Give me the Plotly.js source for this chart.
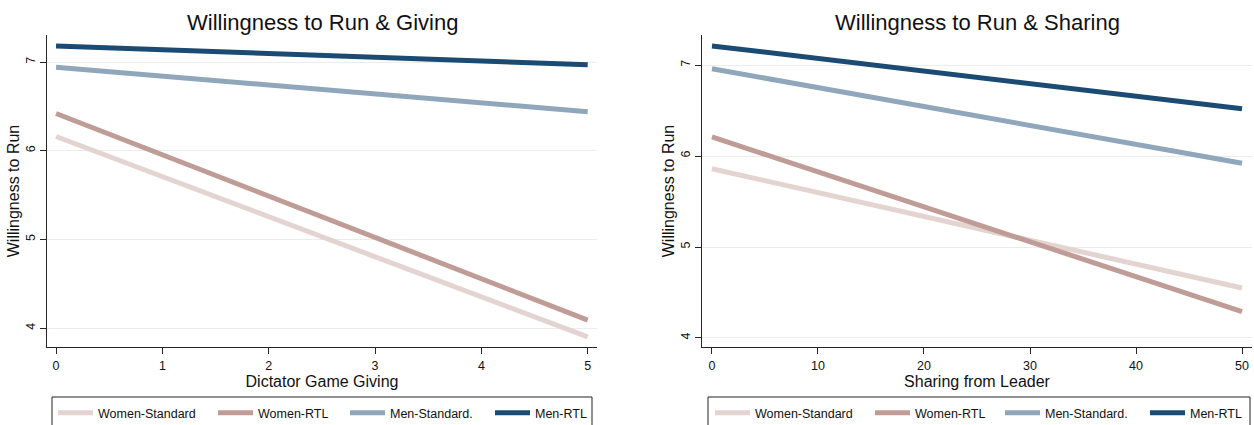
<!DOCTYPE html>
<html>
<head>
<meta charset="utf-8">
<script src="https://cdn.plot.ly/plotly-3.0.1.min.js"></script>
<style>
html,body{margin:0;padding:0;background:#fff;}
#chart{width:1254px;height:425px;}
</style>
</head>
<body>
<div id="chart"></div>
<script>
// ---- data ----
const seriesNames = ["Women-Standard", "Women-RTL", "Men-Standard.", "Men-RTL"];
const seriesColors = ["#e3d3d1", "#bf9d96", "#8fa6bb", "#1b4a73"];

const givingX = [0, 5];
const givingWomenStandard = [6.16, 3.90];
const givingWomenRTL = [6.42, 4.09];
const givingMenStandard = [6.94, 6.44];
const givingMenRTL = [7.18, 6.97];

const sharingX = [0, 50];
const sharingWomenStandard = [5.86, 4.55];
const sharingWomenRTL = [6.21, 4.29];
const sharingMenStandard = [6.96, 5.92];
const sharingMenRTL = [7.21, 6.52];

const givingTicks = [0, 1, 2, 3, 4, 5];
const sharingTicks = [0, 10, 20, 30, 40, 50];
const yTicks = [4, 5, 6, 7];

const leftTitle = "Willingness to Run & Giving";
const rightTitle = "Willingness to Run & Sharing";
const leftXTitle = "Dictator Game Giving";
const rightXTitle = "Sharing from Leader";
const yTitle = "Willingness to Run";

// ---- layout constants (pixels) ----
const W = 1254, H = 425;
const PLOT_TOP = 35, PLOT_BOTTOM = 347;
const PH = PLOT_BOTTOM - PLOT_TOP;
const FONT = "Liberation Sans, Arial, Helvetica, sans-serif";
const px2x = p => p / W;
const py2y = p => (PLOT_BOTTOM - p) / PH;

// legend entry left positions (px) for each panel
const leftLegendItemX = [53, 213, 345, 490];
const rightLegendItemX = [710, 870, 1000, 1145];
const legendTop = 397;

const givingSeries = [givingWomenStandard, givingWomenRTL, givingMenStandard, givingMenRTL];
const sharingSeries = [sharingWomenStandard, sharingWomenRTL, sharingMenStandard, sharingMenRTL];

const traces = [];
const legends = {};
function legendId(n) { return n === 1 ? "legend" : "legend" + n; }
function addLegend(n, xpx) {
  legends[legendId(n)] = {
    orientation: "h", xanchor: "left", yanchor: "top",
    x: px2x(xpx), y: py2y(legendTop + 1),
    borderwidth: 0, bgcolor: "rgba(0,0,0,0)",
    font: {family: FONT, size: 12.5, color: "#111"}, itemwidth: 35,
    itemclick: false, itemdoubleclick: false
  };
}
givingSeries.forEach((ys, i) => {
  const n = i + 1;
  addLegend(n, leftLegendItemX[i]);
  traces.push({
    x: givingX, y: ys, type: "scatter", mode: "lines", name: seriesNames[i],
    line: {color: seriesColors[i], width: 5}, xaxis: "x", yaxis: "y", legend: legendId(n)
  });
});
sharingSeries.forEach((ys, i) => {
  const n = i + 5;
  addLegend(n, rightLegendItemX[i]);
  traces.push({
    x: sharingX, y: ys, type: "scatter", mode: "lines", name: seriesNames[i],
    line: {color: seriesColors[i], width: 5}, xaxis: "x2", yaxis: "y2", legend: legendId(n)
  });
});

const axisLine = "#262626";
function xAxis(domain, range, ticks, title, anchor) {
  return {
    domain: domain, range: range, tickvals: ticks, ticktext: ticks.map(String),
    showgrid: false, zeroline: false, showline: true, linecolor: axisLine, linewidth: 1,
    ticks: "outside", ticklen: 6, tickcolor: axisLine, tickwidth: 1, ticklabelstandoff: 1,
    tickfont: {family: FONT, size: 12.5, color: "#111"},
    title: {text: title, font: {family: FONT, size: 16, color: "#111"}, standoff: 2},
    anchor: anchor, automargin: false, fixedrange: true
  };
}
function yAxis(range, anchor) {
  return {
    domain: [0, 1], range: range, tickvals: yTicks, ticktext: yTicks.map(String),
    showgrid: true, gridcolor: "#ececec", gridwidth: 1, zeroline: false,
    showline: true, linecolor: axisLine, linewidth: 1,
    ticks: "outside", ticklen: 6, tickcolor: axisLine, tickwidth: 1, tickangle: -90,
    tickfont: {family: FONT, size: 12.5, color: "#111"},
    title: {text: yTitle, font: {family: FONT, size: 16, color: "#111"}, standoff: 0},
    anchor: anchor, automargin: false, fixedrange: true
  };
}

const boxStyle = {type: "rect", xref: "paper", yref: "paper",
  line: {color: "#222", width: 1}, fillcolor: "rgba(0,0,0,0)", layer: "above"};

const layout = Object.assign({
  width: W, height: H,
  margin: {l: 0, r: 0, t: PLOT_TOP, b: H - PLOT_BOTTOM, autoexpand: false},
  paper_bgcolor: "#fff", plot_bgcolor: "#fff",
  showlegend: true,
  xaxis: xAxis([px2x(47), px2x(597)], [-0.085, 5.0875], givingTicks, leftXTitle, "y"),
  yaxis: yAxis([3.786, 7.305], "x"),
  xaxis2: xAxis([px2x(702), px2x(1252)], [-0.94, 50.94], sharingTicks, rightXTitle, "y2"),
  yaxis2: yAxis([3.901, 7.33], "x2"),
  shapes: [
    Object.assign({x0: px2x(52), x1: px2x(592), y0: py2y(legendTop), y1: py2y(432)}, boxStyle),
    Object.assign({x0: px2x(708), x1: px2x(1250), y0: py2y(legendTop), y1: py2y(432)}, boxStyle)
  ],
  annotations: [
    {text: leftTitle, xref: "paper", yref: "paper", x: px2x(322), y: 1, yshift: 13,
     xanchor: "center", yanchor: "middle", showarrow: false,
     font: {family: FONT, size: 22, color: "#111"}},
    {text: rightTitle, xref: "paper", yref: "paper", x: px2x(977), y: 1, yshift: 13,
     xanchor: "center", yanchor: "middle", showarrow: false,
     font: {family: FONT, size: 22, color: "#111"}}
  ]
}, legends);

Plotly.newPlot("chart", traces, layout, {staticPlot: true, displayModeBar: false});
</script>
</body>
</html>
